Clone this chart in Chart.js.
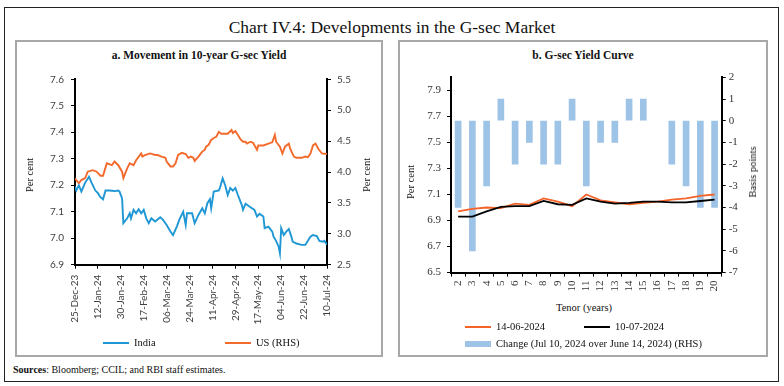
<!DOCTYPE html>
<html><head><meta charset="utf-8">
<script src="https://cdn.jsdelivr.net/npm/chart.js@4.4.1/dist/chart.umd.min.js"></script>
<style>
html,body{margin:0;padding:0;background:#fff;width:784px;height:386px;overflow:hidden;font-family:"Liberation Serif",serif;color:#111;}
#frame{position:absolute;left:4px;top:7px;width:775px;height:375px;border:1.5px solid #222;box-sizing:border-box;}
.panel{position:absolute;top:40px;height:317px;border:2px solid #a8a8a8;box-sizing:border-box;}
#pa{left:15px;width:368px;}
#pb{left:398px;width:370px;}
#title{position:absolute;left:0;width:784px;top:16px;text-align:center;font-size:17.5px;line-height:22px;}
.sub{position:absolute;top:48px;text-align:center;font-size:11.5px;font-weight:bold;line-height:14px;}
.vt{position:absolute;transform:translate(-50%,-50%) rotate(-90deg);white-space:nowrap;font-size:10.5px;line-height:12px;}
.ht{position:absolute;transform:translate(0,-50%);white-space:nowrap;font-size:10.5px;line-height:12px;}
.ctr{position:absolute;transform:translate(-50%,-50%);white-space:nowrap;font-size:10.5px;line-height:12px;}
.sw{position:absolute;}
canvas{position:absolute;}
#src{position:absolute;left:13px;top:364px;font-size:10px;line-height:12px;white-space:nowrap;}
</style>
</head><body>
<div id="frame"></div>
<div id="title">Chart IV.4: Developments in the G-sec Market</div>
<div class="panel" id="pa"></div>
<div class="panel" id="pb"></div>
<div class="sub" style="left:15px;width:368px;">a. Movement in 10-year G-sec Yield</div>
<div class="sub" style="left:398px;width:370px;">b. G-sec Yield Curve</div>
<canvas id="ca" width="368" height="300" style="left:15px;top:40px;"></canvas>
<canvas id="cb" width="370" height="260" style="left:398px;top:40px;"></canvas>
<div class="vt" style="left:30px;top:175px;">Per cent</div>
<div class="vt" style="left:367px;top:175px;">Per cent</div>
<div class="vt" style="left:411px;top:182px;">Per cent</div>
<div class="vt" style="left:753px;top:172px;">Basis points</div>
<div class="ctr" style="left:584px;top:308px;">Tenor (years)</div>
<div id="legA"></div>
<div id="legB"></div>
<div id="src"><b>Sources</b>: Bloomberg; CCIL; and RBI staff estimates.</div>
<script>
// ---------- Panel a data ----------
const dateTicks = ['25-Dec-23','12-Jan-24','30-Jan-24','17-Feb-24','06-Mar-24','24-Mar-24','11-Apr-24','29-Apr-24','17-May-24','04-Jun-24','22-Jun-24','10-Jul-24'];
const indiaDates = ['2023-12-25','2023-12-26','2023-12-28','2023-12-30','2024-01-02','2024-01-05','2024-01-07','2024-01-10','2024-01-12','2024-01-14','2024-01-16','2024-01-18','2024-01-21','2024-01-25','2024-01-28','2024-01-29','2024-01-31','2024-02-01','2024-02-04','2024-02-06','2024-02-07','2024-02-09','2024-02-11','2024-02-13','2024-02-15','2024-02-17','2024-02-19','2024-02-21','2024-02-23','2024-02-26','2024-03-01','2024-03-03','2024-03-06','2024-03-09','2024-03-11','2024-03-14','2024-03-16','2024-03-19','2024-03-21','2024-03-22','2024-03-26','2024-03-28','2024-03-31','2024-04-03','2024-04-05','2024-04-07','2024-04-09','2024-04-10','2024-04-12','2024-04-16','2024-04-17','2024-04-19','2024-04-21','2024-04-23','2024-04-25','2024-04-27','2024-04-29','2024-05-01','2024-05-04','2024-05-05','2024-05-07','2024-05-10','2024-05-14','2024-05-16','2024-05-18','2024-05-21','2024-05-22','2024-05-25','2024-05-28','2024-05-29','2024-05-31','2024-06-02','2024-06-03','2024-06-04','2024-06-06','2024-06-08','2024-06-10','2024-06-12','2024-06-13','2024-06-16','2024-06-20','2024-06-23','2024-06-25','2024-06-27','2024-06-29','2024-07-02','2024-07-04','2024-07-07','2024-07-08','2024-07-10'];
const indiaYield = [7.195,7.18,7.20,7.176,7.21,7.232,7.21,7.18,7.17,7.155,7.147,7.18,7.18,7.178,7.18,7.176,7.15,7.057,7.075,7.094,7.075,7.107,7.094,7.109,7.094,7.107,7.075,7.057,7.075,7.063,7.079,7.07,7.05,7.025,7.012,7.044,7.07,7.10,7.05,7.094,7.094,7.057,7.088,7.113,7.094,7.132,7.147,7.113,7.176,7.18,7.192,7.226,7.20,7.163,7.19,7.18,7.19,7.163,7.126,7.107,7.13,7.12,7.107,7.082,7.092,7.082,7.038,7.044,7.025,7.006,6.99,6.968,6.943,7.038,7.012,7.025,7.035,7.006,6.987,6.98,6.975,6.975,6.99,7.006,7.012,7.008,6.99,6.987,6.99,6.975];
const usDates = ['2023-12-25','2023-12-26','2023-12-28','2023-12-30','2024-01-02','2024-01-04','2024-01-08','2024-01-11','2024-01-14','2024-01-16','2024-01-19','2024-01-23','2024-01-25','2024-01-28','2024-01-31','2024-02-01','2024-02-04','2024-02-06','2024-02-09','2024-02-11','2024-02-15','2024-02-16','2024-02-18','2024-02-22','2024-02-26','2024-02-28','2024-03-02','2024-03-05','2024-03-06','2024-03-09','2024-03-11','2024-03-13','2024-03-15','2024-03-18','2024-03-21','2024-03-23','2024-03-25','2024-03-27','2024-03-28','2024-03-31','2024-04-03','2024-04-05','2024-04-06','2024-04-08','2024-04-10','2024-04-12','2024-04-14','2024-04-16','2024-04-18','2024-04-21','2024-04-23','2024-04-26','2024-04-27','2024-04-29','2024-05-01','2024-05-03','2024-05-05','2024-05-07','2024-05-08','2024-05-11','2024-05-13','2024-05-16','2024-05-17','2024-05-21','2024-05-25','2024-05-28','2024-05-30','2024-05-31','2024-06-03','2024-06-05','2024-06-07','2024-06-10','2024-06-11','2024-06-14','2024-06-16','2024-06-20','2024-06-23','2024-06-25','2024-06-27','2024-06-29','2024-07-01','2024-07-03','2024-07-06','2024-07-10'];
const usYield = [3.90,3.87,3.817,3.87,3.90,4.005,4.03,4.005,3.94,3.94,4.14,4.11,4.17,4.11,4.005,3.90,4.06,4.14,4.11,4.19,4.30,4.25,4.275,4.30,4.275,4.275,4.25,4.23,4.17,4.09,4.09,4.14,4.275,4.31,4.29,4.23,4.25,4.23,4.18,4.25,4.33,4.36,4.41,4.44,4.52,4.55,4.57,4.65,4.62,4.62,4.62,4.68,4.63,4.66,4.60,4.53,4.49,4.49,4.46,4.49,4.47,4.36,4.43,4.43,4.46,4.48,4.60,4.49,4.41,4.30,4.41,4.46,4.38,4.25,4.23,4.23,4.25,4.24,4.30,4.43,4.46,4.38,4.30,4.29];

// ---------- Panel b data ----------
const tenors = ['2','3','4','5','6','7','8','9','10','11','12','13','14','15','16','17','18','19','20'];
const curveJun14 = [6.97,6.99,7.00,6.995,7.03,7.02,7.07,7.045,7.01,7.10,7.055,7.04,7.025,7.035,7.045,7.06,7.07,7.09,7.10];
const curveJul10 = [6.93,6.93,6.97,7.005,7.01,7.01,7.05,7.025,7.02,7.07,7.045,7.03,7.035,7.045,7.045,7.04,7.04,7.05,7.06];
const changeBps = [-4,-6,-3,1,-2,-1,-2,-2,1,-3,-1,-1,1,1,0,-2,-3,-4,-4];
const curveTicks = [6.5,6.7,6.9,7.1,7.3,7.5,7.7,7.9];

const DAY0 = Date.parse('2023-12-25');
const dayOf = s => Math.round((Date.parse(s) - DAY0) / 864e5);

const tickFontA = {family:'Lato', size:10};
const tickFontB = {family:'Liberation Serif', size:11};
const axBorder = {display:true, color:'#000', width:2};
const gridA = {drawOnChartArea:false, drawTicks:true, tickLength:4, color:'#000', lineWidth:1};

const chartA = new Chart(document.getElementById('ca'), {
  type:'line',
  data:{datasets:[
    {label:'India', data: indiaDates.map((d,i)=>({x:dayOf(d), y:indiaYield[i]})), borderColor:'#1f97d4', borderWidth:1.9, pointRadius:0, tension:0, yAxisID:'y'},
    {label:'US (RHS)', data: usDates.map((d,i)=>({x:dayOf(d), y:usYield[i]})), borderColor:'#f26a2c', borderWidth:1.9, pointRadius:0, tension:0, yAxisID:'y1'}
  ]},
  options:{
    responsive:false, animation:false, devicePixelRatio:1,
    layout:{padding:{top:39.3, left:0, right:0, bottom:0}},
    plugins:{legend:{display:false}, tooltip:{enabled:false}},
    scales:{
      x:{type:'linear', min:0, max:198,
         ticks:{stepSize:18, autoSkip:false, minRotation:90, maxRotation:90, font:tickFontA, color:'#404040', padding:6,
                callback:v=>dateTicks[Math.round(v/18)]},
         grid:gridA, border:axBorder,
         afterFit:s=>{s.height=75.3;}},
      y:{position:'left', min:6.9, max:7.6,
         ticks:{stepSize:0.1, font:tickFontA, color:'#404040', padding:7, callback:v=>v.toFixed(1)},
         grid:gridA, border:axBorder,
         afterFit:s=>{s.width=60;}},
      y1:{position:'right', min:2.5, max:5.5,
         ticks:{stepSize:0.5, font:tickFontA, color:'#404040', padding:6, callback:v=>v.toFixed(1)},
         grid:gridA, border:axBorder,
         afterFit:s=>{s.width=56;}}
    }
  }
});

const gridB = {drawOnChartArea:false, drawTicks:true, tickLength:4, color:'#000', lineWidth:1};
const chartB = new Chart(document.getElementById('cb'), {
  type:'bar',
  data:{labels:tenors, datasets:[
    {type:'line', label:'14-06-2024', data:curveJun14, borderColor:'#f4632a', borderWidth:1.8, pointRadius:0, tension:0, yAxisID:'y', order:1},
    {type:'line', label:'10-07-2024', data:curveJul10, borderColor:'#000', borderWidth:1.8, pointRadius:0, tension:0, yAxisID:'y', order:0},
    {type:'bar', label:'Change (Jul 10, 2024 over June 14, 2024) (RHS)', data:changeBps,
     backgroundColor:'#9dc3e6', barThickness:6, yAxisID:'y1', order:2}
  ]},
  options:{
    responsive:false, animation:false, devicePixelRatio:1,
    layout:{padding:{top:37.3, left:0, right:0, bottom:0}},
    plugins:{legend:{display:false}, tooltip:{enabled:false}},
    scales:{
      x:{type:'category', offset:true,
         ticks:{autoSkip:false, minRotation:90, maxRotation:90, font:tickFontB, color:'#333', padding:4},
         grid:Object.assign({offset:true}, gridB), border:axBorder,
         afterFit:s=>{s.height=27.4;}},
      y:{position:'left', min:6.5, max:8.0,
         afterBuildTicks:s=>{s.ticks = curveTicks.map(v=>({value:v}));},
         ticks:{font:tickFontB, color:'#333', padding:6, callback:v=>v.toFixed(1)},
         grid:gridB, border:axBorder,
         afterFit:s=>{s.width=53;}},
      y1:{position:'right', min:-7, max:2,
         ticks:{stepSize:1, font:tickFontB, color:'#333', padding:3},
         grid:gridB, border:axBorder,
         afterFit:s=>{s.width=46.3;}}
    }
  }
});
// a zero change draws no visible bar, as in the original
chartB.data.datasets[2].backgroundColor = changeBps.map(v => v === 0 ? 'rgba(0,0,0,0)' : '#9dc3e6');
chartB.update();

// ---------- legends built from the datasets ----------
function addLegend(host, chart, spots){
  chart.data.datasets.forEach((ds,i)=>{
    const p = spots[i];
    const sw = document.createElement('div');
    sw.className='sw';
    const isBar = ds.type==='bar';
    const h = isBar ? 6 : 2.2;
    sw.style.cssText = `left:${p[0]}px;top:${p[1]-h/2}px;width:26px;height:${h}px;background:${isBar?'#9dc3e6':ds.borderColor};`;
    host.appendChild(sw);
    const t = document.createElement('div');
    t.className='ht';
    t.style.left=(p[0]+31)+'px'; t.style.top=p[1]+'px';
    t.textContent = ds.label;
    host.appendChild(t);
  });
}
addLegend(document.getElementById('legA'), chartA, [[103,343],[225,343]]);
addLegend(document.getElementById('legB'), chartB, [[465,327],[584,327],[465,343.5]]);
</script>
</body></html>
